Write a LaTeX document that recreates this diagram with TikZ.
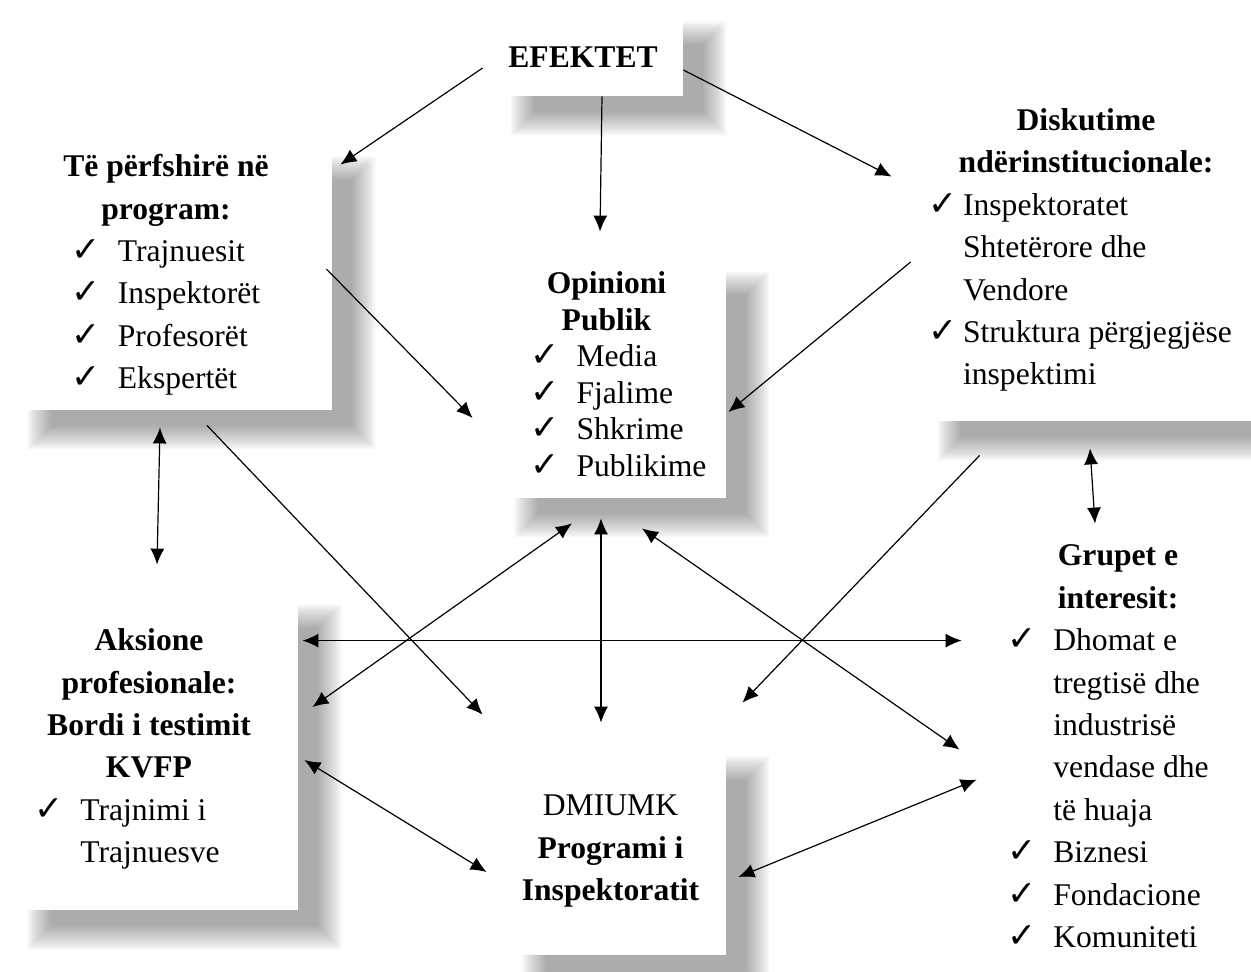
\documentclass[tikz,border=0pt]{standalone}
\usepackage{fontspec}
\setmainfont{Liberation Serif}
\newfontfamily\symfont[Scale=1.1]{DejaVu Sans}
\usetikzlibrary{arrows.meta,backgrounds}
\newcommand{\ck}[1][23pt]{\makebox[#1][l]{\symfont ✓}}
\newcommand{\dn}{\rule{0pt}{16.5pt}}

\begin{document}
\begin{tikzpicture}[x=0.5pt,y=-0.5pt,
  box/.style={fill=white, inner sep=0pt, align=center,
    font=\fontsize{15.8}{21.2}\selectfont},
  arr/.style={line width=0.6pt, -{Latex[length=8pt,width=7pt]}},
  both/.style={line width=0.6pt, {Latex[length=8pt,width=7pt]}-{Latex[length=8pt,width=7pt]}}]
  \useasboundingbox (0,0) rectangle (1251,971);
  \node[box, minimum width=100pt, minimum height=48pt, text height=19.5pt, text depth=0pt] (eff) at (583,48) {\textbf{EFEKTET}};
  \node[box, minimum width=166pt, minimum height=137.5pt] (prog) at (166,272.5)
    {\dn\textbf{Të përfshirë në}\\ \textbf{program:}\\
     \begin{tabular}[t]{@{}l@{}l@{}}
       \ck & Trajnuesit\\ \ck & Inspektorët\\ \ck & Profesorët\\ \ck & Ekspertët
     \end{tabular}};
  \node[box, font=\fontsize{15.8}{18.3}\selectfont, minimum width=119.5pt, minimum height=124pt] (opin) at (606.5,374)
    {\dn\textbf{Opinioni}\\ \textbf{Publik}\\
     \hspace*{12pt}\begin{tabular}[t]{@{}l@{}l@{}}
       \ck & Media\\ \ck & Fjalime\\ \ck & Shkrime\\ \ck & Publikime
     \end{tabular}};
  \node[box, minimum width=176pt, minimum height=168pt] (disk) at (1086,253)
    {\textbf{Diskutime}\\ \textbf{ndërinstitucionale:}\\
     \hspace*{-6pt}\begin{tabular}[t]{@{}l@{}l@{}}
       \ck[17.5pt] & Inspektoratet\\ & Shtetërore dhe\\ & Vendore\\
       \ck[17.5pt] & Struktura përgjegjëse\\ & inspektimi
     \end{tabular}};
  \node[box, minimum width=149pt, minimum height=163.5pt] (aks) at (149,746.5)
    {\dn\textbf{Aksione}\\ \textbf{profesionale:}\\ \textbf{Bordi i testimit}\\ \textbf{KVFP}\\
     \hspace*{-22pt}\begin{tabular}[t]{@{}l@{}l@{}}
       \ck & Trajnimi i\\ & Trajnuesve
     \end{tabular}};
  \node[box, minimum width=115.5pt, minimum height=110pt] (dmi) at (610.5,845)
    {\dn DMIUMK\\ \textbf{Programi i}\\ \textbf{Inspektoratit}};
  \node[box, minimum width=150pt, minimum height=227.5pt] (grp) at (1118,752.5)
    {\textbf{Grupet e}\\ \textbf{interesit:}\\
     \hspace*{-10pt}\begin{tabular}[t]{@{}l@{}l@{}}
       \ck & Dhomat e\\ & tregtisë dhe\\ & industrisë\\ & vendase dhe\\ & të huaja\\
       \ck & Biznesi\\ \ck & Fondacione\\ \ck & Komuniteti
     \end{tabular}};
  \begin{scope}[on background layer]
    \foreach \b in {eff,prog,opin,disk,aks,dmi,grp}
      \foreach \k [evaluate=\k as \r using -30+2.5*\k] in {0,...,24}
        \fill[black, opacity=0.015] ([shift={(27+\r,21+\r)}]\b.north west) rectangle ([shift={(44-\r,40-\r)}]\b.south east);
  \end{scope}
  \draw[arr] ([shift={(0,20)}]eff.west) -- ([shift={(8,30)}]prog.north east);
  \draw[arr] ([shift={(19,0)}]eff.south) -- ([shift={(-6.5,-18)}]opin.north);
  \draw[arr] ([shift={(0,22)}]eff.east) -- ([shift={(-18,92)}]disk.north west);
  \draw[arr] ([shift={(-6,-3.5)}]prog.east) -- ([shift={(-14,44)}]opin.west);
  \draw[arr] ([shift={(1,9)}]disk.west) -- ([shift={(2,38)}]opin.east);
  \draw[arr] ([shift={(41,15)}]prog.south) -- ([shift={(-12,-20)}]dmi.north west);
  \draw[arr] ([shift={(70,34)}]disk.south west) -- ([shift={(16,-32)}]dmi.north east);
  \draw[both] ([shift={(-6,17)}]prog.south) -- ([shift={(8,-18)}]aks.north);
  \draw[both] ([shift={(4,58)}]aks.north east) -- ([shift={(-6,116)}]grp.north west);
  \draw[both] ([shift={(14,-39.5)}]aks.east) -- ([shift={(-34.5,25)}]opin.south);
  \draw[both] ([shift={(-5.5,20)}]opin.south) -- ([shift={(-9.5,-12)}]dmi.north);
  \draw[both] ([shift={(35.5,30)}]opin.south) -- ([shift={(-8,225)}]grp.north west);
  \draw[both] ([shift={(6,13.5)}]aks.east) -- ([shift={(-8,27)}]dmi.west);
  \draw[both] ([shift={(9,255)}]grp.north west) -- ([shift={(12,32)}]dmi.east);
  \draw[both] ([shift={(4,27)}]disk.south) -- ([shift={(-23,-1)}]grp.north);
\end{tikzpicture}
\end{document}
